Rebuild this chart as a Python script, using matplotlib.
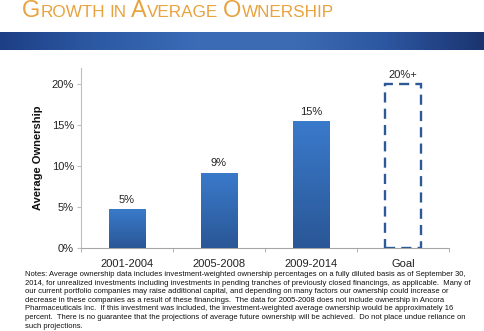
import matplotlib
matplotlib.use("Agg")
import matplotlib.pyplot as plt
import numpy as np
from matplotlib.colors import LinearSegmentedColormap

categories = ["2001-2004", "2005-2008", "2009-2014", "Goal"]
values = [4.7, 9.2, 15.5]
goal_value = 20.0
value_labels = ["5%", "9%", "15%", "20%+"]
yticks = [0, 5, 10, 15, 20]
ytick_labels = ["0%", "5%", "10%", "15%", "20%"]

title_parts = [("G", True), ("ROWTH", False), (" ", None), ("IN", False), (" ", None),
               ("A", True), ("VERAGE", False), (" ", None), ("O", True), ("WNERSHIP", False)]

notes = ("Notes: Average ownership data includes investment-weighted ownership percentages on a fully diluted basis as of September 30,\n"
         "2014, for unrealized investments including investments in pending tranches of previously closed financings, as applicable.  Many of\n"
         "our current portfolio companies may raise additional capital, and depending on many factors our ownership could increase or\n"
         "decrease in these companies as a result of these financings.  The data for 2005-2008 does not include ownership in Ancora\n"
         "Pharmaceuticals Inc.  If this investment was included, the investment-weighted average ownership would be approximately 16\n"
         "percent.  There is no guarantee that the projections of average future ownership will be achieved.  Do not place undue reliance on\n"
         "such projections.")

plt.rcParams['font.family'] = ['Liberation Sans', 'DejaVu Sans']

W, H = 485, 331
fig = plt.figure(figsize=(W / 100, H / 100), dpi=100)
fig.patch.set_facecolor("white")

def fx(px):
    return px / W

def fy(py):
    return 1 - py / H

# Banner
bax = fig.add_axes([0, fy(50.5), 1, (50.5 - 31.5) / H])
bcmap = LinearSegmentedColormap.from_list("ban", ["#1d3f85", "#2d5aa5", "#3b6bb6", "#3d6cb4", "#2c56a0", "#1b3470"])
grad = np.linspace(0, 1, 256).reshape(1, -1)
bax.imshow(grad, aspect="auto", cmap=bcmap, extent=[0, 1, 0, 1])
bax.set_axis_off()

# Title with small caps
renderer = fig.canvas.get_renderer()
title_color = "#E8A23E"
x = fx(22)
ybase = fy(16.8)
big, small = 17, 12.3
tmp = fig.text(0, 0, "a a", fontsize=small)
w2 = tmp.get_window_extent(renderer).width
tmp.set_text("aa")
w1 = tmp.get_window_extent(renderer).width
tmp.remove()
space_w = (w2 - w1) / W
for s, is_big in title_parts:
    if is_big is None:
        x += space_w
        continue
    t = fig.text(x, ybase, s, fontsize=big if is_big else small, color=title_color, va="baseline", ha="left")
    x += t.get_window_extent(renderer).width / W

# Main axes
left, right, bottom, top = 81, 449, 247.7, 68
ax = fig.add_axes([fx(left), fy(bottom), fx(right - left), (bottom - top) / H])
xpos = np.arange(len(categories))
bars = ax.bar(xpos[:3], values, width=0.4, color="#3366aa", edgecolor="none", zorder=2)
bcm = LinearSegmentedColormap.from_list("bar", ["#2a5796", "#3a7acb"])
for b in bars:
    x0, y0 = b.get_x(), b.get_y()
    im = ax.imshow(np.linspace(0, 1, 100).reshape(-1, 1), origin="lower", aspect="auto", cmap=bcm,
                   extent=[x0, x0 + b.get_width(), y0, y0 + b.get_height()], zorder=3)
    im.set_clip_path(b)
ax.bar(xpos[3], goal_value, width=0.4, fill=False, edgecolor="#2d5a97", linewidth=1.7,
       linestyle=(0, (4.3, 2.6)), zorder=3)

allvals = values + [goal_value]
for i, (v, lab) in enumerate(zip(allvals, value_labels)):
    ax.annotate(lab, (xpos[i], v), xytext=(0, 3), textcoords="offset points", ha="center", va="bottom",
                fontsize=8, color="#222222")

ax.set_xlim(-0.5, 3.5)
ax.set_ylim(0, 22)
ax.set_xticks(xpos)
ax.set_xticklabels(categories, fontsize=8, color="#222222")
ax.set_xticks(np.arange(-0.5, 3.6, 1), minor=True)
ax.tick_params(axis="x", which="major", length=0, pad=8)
ax.tick_params(axis="x", which="minor", length=3, color="#a6a6a6", direction="out")
ax.set_yticks(yticks)
ax.set_yticklabels(ytick_labels, fontsize=8, color="#222222")
ax.tick_params(axis="y", length=3, color="#bfbfbf", direction="out", pad=2)
for sp in ["top", "right"]:
    ax.spines[sp].set_visible(False)
ax.spines["left"].set_color("#bfbfbf")
ax.spines["bottom"].set_color("#a6a6a6")
ax.set_ylabel("Average Ownership", fontsize=8, fontweight="bold", color="#111111")
ax.yaxis.set_label_coords(-0.103, 0.5)

fig.text(fx(25), fy(271), notes, fontsize=5.5, linespacing=1.32, va="top", ha="left", color="#111111")

fig.savefig("out.png", dpi=100, facecolor="white")
